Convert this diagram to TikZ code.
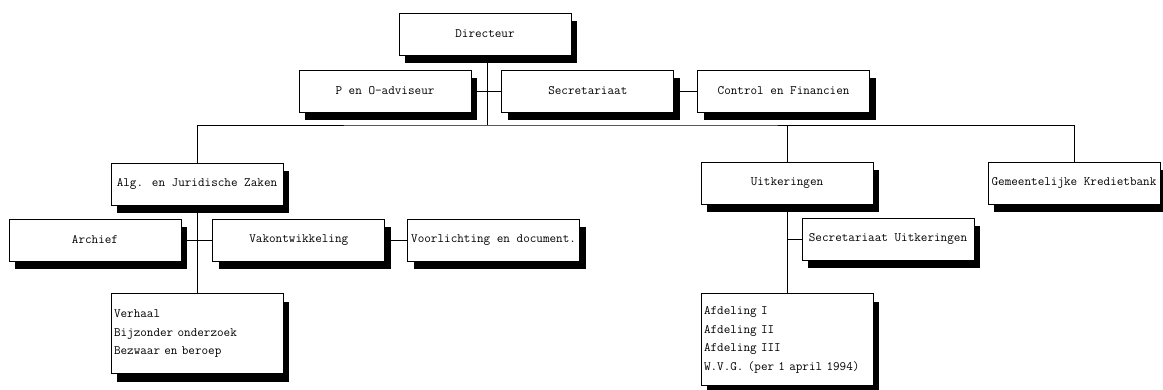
\documentclass[tikz,border=0pt]{standalone}
\usepackage{tikz}
\usetikzlibrary{positioning,shadows}

\newcommand{\unitfont}{\fontsize{12.8}{18.7}\selectfont\ttfamily}

\begin{document}
\begin{tikzpicture}[
    x=1pt, y=-1pt,
    unit/.style={rectangle, draw=black, fill=white, line width=0.8pt, minimum width=172pt, minimum height=42pt, inner sep=3pt, font=\unitfont, drop shadow={shadow xshift=6pt, shadow yshift=-8pt, fill=black, opacity=1}},
    listbox/.style={unit, align=left, text width=166pt, minimum height=80pt},
    conn/.style={-, black, line width=0.8pt}
]
    \fill[white] (0,0) rectangle (1163,390);
    \useasboundingbox (0,0) rectangle (1163,390);

    % Top: director and staff
    \node[unit] (dir) at (485,34) {Directeur};
    \node[unit] (pen) at (385,91) {P en O-adviseur};
    \node[unit, right=30pt of pen] (sec) {Secretariaat};
    \node[unit, right=23pt of sec] (ctrl) {Control en Financien};

    % Departments
    \node[unit] (alg) at (197,184) {Alg. en Juridische Zaken};
    \node[unit] (uitk) at (787,183) {Uitkeringen};
    \node[unit] (gkb) at (1074,183) {Gemeentelijke Kredietbank};

    % Under Alg. en Juridische Zaken
    \node[unit] (arch) at (95,240) {Archief};
    \node[unit, right=31pt of arch] (vak) {Vakontwikkeling};
    \node[unit, right=22pt of vak] (voor) {Voorlichting en document.};
    \node[listbox, below=88pt of alg] (verh) {Verhaal\\Bijzonder onderzoek\\Bezwaar en beroep};

    % Under Uitkeringen
    \node[unit] (secu) at (888,239) {Secretariaat Uitkeringen};
    \node[listbox, minimum height=92pt, below=89pt of uitk] (afd) {Afdeling I\\Afdeling II\\Afdeling III\\W.V.G. (per 1 april 1994)};

    % Connections
    \coordinate (bus) at (487,125);
    \draw[conn] (dir.south -| bus) -- (bus);
    \draw[conn] (pen.east) -- (sec.west);
    \draw[conn] (sec.east) -- (ctrl.west);
    \draw[conn] (alg.north) |- (bus) -| (gkb.north);
    \draw[conn] (uitk.north) -- (uitk.north |- bus);
    \draw[conn] (alg.south) -- (verh.north);
    \draw[conn] (arch.east) -- (vak.west);
    \draw[conn] (vak.east) -- (voor.west);
    \draw[conn] (uitk.south) -- (afd.north);
    \draw[conn] (uitk.south |- secu.west) -- (secu.west);
\end{tikzpicture}
\end{document}
